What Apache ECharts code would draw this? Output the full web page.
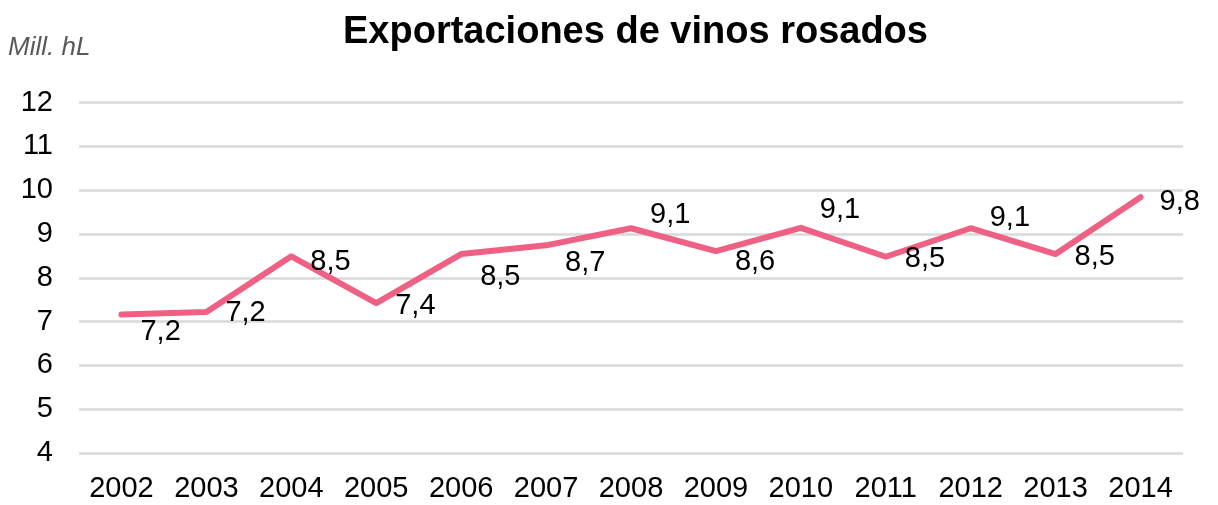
<!DOCTYPE html>
<html>
<head>
<meta charset="utf-8">
<script src="https://cdn.jsdelivr.net/npm/echarts@6/dist/echarts.min.js"></script>
<style>
  html, body { margin: 0; padding: 0; background: #fff; }
  #chart { width: 1218px; height: 505px; }
</style>
</head>
<body>
<div id="chart"></div>
<script>
// datos
var years = ['2002', '2003', '2004', '2005', '2006', '2007', '2008', '2009', '2010', '2011', '2012', '2013', '2014'];
var exports = [7.16, 7.22, 8.49, 7.42, 8.54, 8.74, 9.13, 8.61, 9.14, 8.48, 9.13, 8.54, 9.84];

// desplazamiento vertical de cada etiqueta (estilo, no datos)
var labelShift = [17, 1, 6, 3, 23, 18, -13, 11, -18, 2, -10, 3, 5];

var chart = echarts.init(document.getElementById('chart'));

var option = {
  animation: false,
  title: [
    {
      text: 'Exportaciones de vinos rosados',
      left: 338,
      top: 9,
      textStyle: {
        fontFamily: 'Liberation Sans, Arial, sans-serif',
        fontWeight: 'bold',
        fontSize: 38,
        color: '#000'
      }
    },
    {
      text: 'Mill. hL',
      left: 3,
      top: 30,
      textStyle: {
        fontFamily: 'Liberation Sans, Arial, sans-serif',
        fontStyle: 'italic',
        fontWeight: 'normal',
        fontSize: 26,
        color: '#595959'
      }
    }
  ],
  grid: {
    left: 79,
    right: 35,
    top: 102.5,
    bottom: 52,
    containLabel: false
  },
  xAxis: {
    type: 'category',
    data: years,
    boundaryGap: true,
    axisLine: { show: false },
    axisTick: { show: false },
    axisLabel: {
      margin: 21,
      fontFamily: 'Liberation Sans, Arial, sans-serif',
      fontSize: 29,
      color: '#000'
    }
  },
  yAxis: {
    type: 'value',
    min: 4,
    max: 12,
    interval: 1,
    axisLine: { show: false },
    axisTick: { show: false },
    axisLabel: {
      margin: 26,
      fontFamily: 'Liberation Sans, Arial, sans-serif',
      fontSize: 29,
      color: '#000'
    },
    splitLine: {
      lineStyle: { color: '#d9d9d9', width: 2.5 }
    }
  },
  series: [
    {
      type: 'line',
      data: exports,
      symbol: 'circle',
      symbolSize: 0,
      showSymbol: true,
      lineStyle: { color: '#ef6184', width: 6, cap: 'round', join: 'round' },
      itemStyle: { color: '#ef6184' },
      labelLayout: function (p) {
        return { dy: labelShift[p.dataIndex], hideOverlap: false };
      },
      label: {
        show: true,
        position: 'right',
        distance: 19,
        fontFamily: 'Liberation Sans, Arial, sans-serif',
        fontSize: 29,
        color: '#000',
        formatter: function (p) {
          return p.value.toFixed(1).replace('.', ',');
        }
      }
    }
  ]
};

chart.setOption(option);
</script>
</body>
</html>
